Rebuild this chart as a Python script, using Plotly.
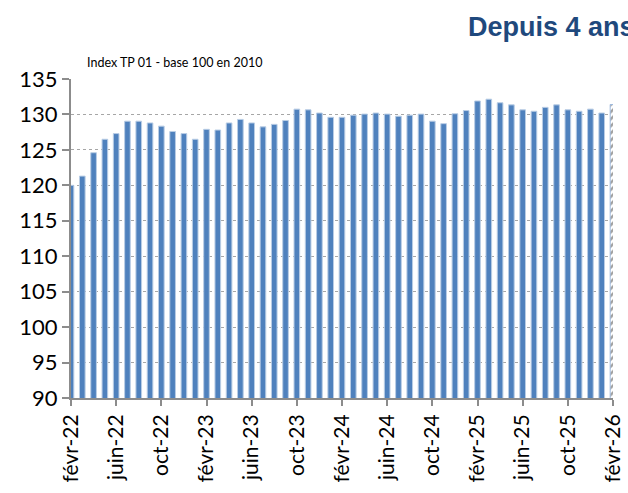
import plotly.graph_objects as go

values = [120.0, 121.3, 124.6, 126.5, 127.3, 129.05, 129.05, 128.8, 128.35, 127.6, 127.3, 126.5,
          127.9, 127.8, 128.8, 129.3, 128.8, 128.25, 128.6, 129.15, 130.75, 130.65, 130.2, 129.6,
          129.6, 129.9, 130.05, 130.2, 130.05, 129.75, 129.9, 130.05, 129.05, 128.7, 130.1, 130.55,
          131.9, 132.15, 131.65, 131.35, 130.65, 130.45, 131.0, 131.35, 130.65, 130.45, 130.75, 130.2,
          131.4]

tick_idx = list(range(0, 49, 4))
tick_text = ["févr-22","juin-22","oct-22","févr-23","juin-23","oct-23","févr-24",
             "juin-24","oct-24","févr-25","juin-25","oct-25","févr-26"]
y_ticks = [90, 95, 100, 105, 110, 115, 120, 125, 130, 135]

x = list(range(len(values)))
shapes_pat = [""] * (len(values) - 1) + ["/"]
colors = ["#4F81BD"] * (len(values) - 1) + ["white"]
line_colors = ["#B9CDE5"] * (len(values) - 1) + ["#9DB9DE"]

fig = go.Figure(go.Bar(
    x=x, y=values,
    marker=dict(color=colors, line=dict(color=line_colors, width=1),
                pattern=dict(shape=shapes_pat, fgcolor="#4F81BD", bgcolor="white",
                             size=5, solidity=0.5)),
    width=0.5,
))

fig.update_layout(
    width=628, height=493,
    margin=dict(l=71, r=15, t=79, b=95, autoexpand=False),
    plot_bgcolor="white", paper_bgcolor="white",
    showlegend=False,
    font=dict(family="Lato", color="black"),
    xaxis=dict(range=[0, 48], tickvals=tick_idx, ticktext=tick_text, tickangle=-90,
               showgrid=False, showline=True, linecolor="#8C8C8C", linewidth=2,
               ticks="outside", ticklen=6, tickcolor="#8C8C8C", tickwidth=2,
               tickfont=dict(size=21, family="Lato"), zeroline=False, automargin=False),
    yaxis=dict(range=[90, 135], tickvals=y_ticks, showgrid=True, gridcolor="#A6A6A6",
               griddash="dot", gridwidth=1, showline=True, linecolor="#8C8C8C", linewidth=2,
               ticks="outside", ticklen=7, tickcolor="#8C8C8C", tickwidth=2,
               tickfont=dict(size=22, family="Lato"), zeroline=False, automargin=False),
    annotations=[
        dict(text="Depuis 4 ans", xref="paper", yref="paper", x=(466 - 71) / 542, y=1 + (79 - 27) / 319,
             xanchor="left", yanchor="middle", showarrow=False,
             font=dict(family="Liberation Sans", size=27, color="#1F497D", weight="bold")),
        dict(text="Index TP 01 - base 100 en 2010", xref="paper", yref="paper",
             x=(85 - 71) / 542, y=1 + (79 - 62) / 319, xanchor="left", yanchor="middle",
             showarrow=False, font=dict(family="Lato", size=12.5, color="black")),
    ],
)

fig.write_html("out.html", config={"displayModeBar": False},
               post_script="document.body.style.margin='0';document.body.style.overflow='hidden';")
